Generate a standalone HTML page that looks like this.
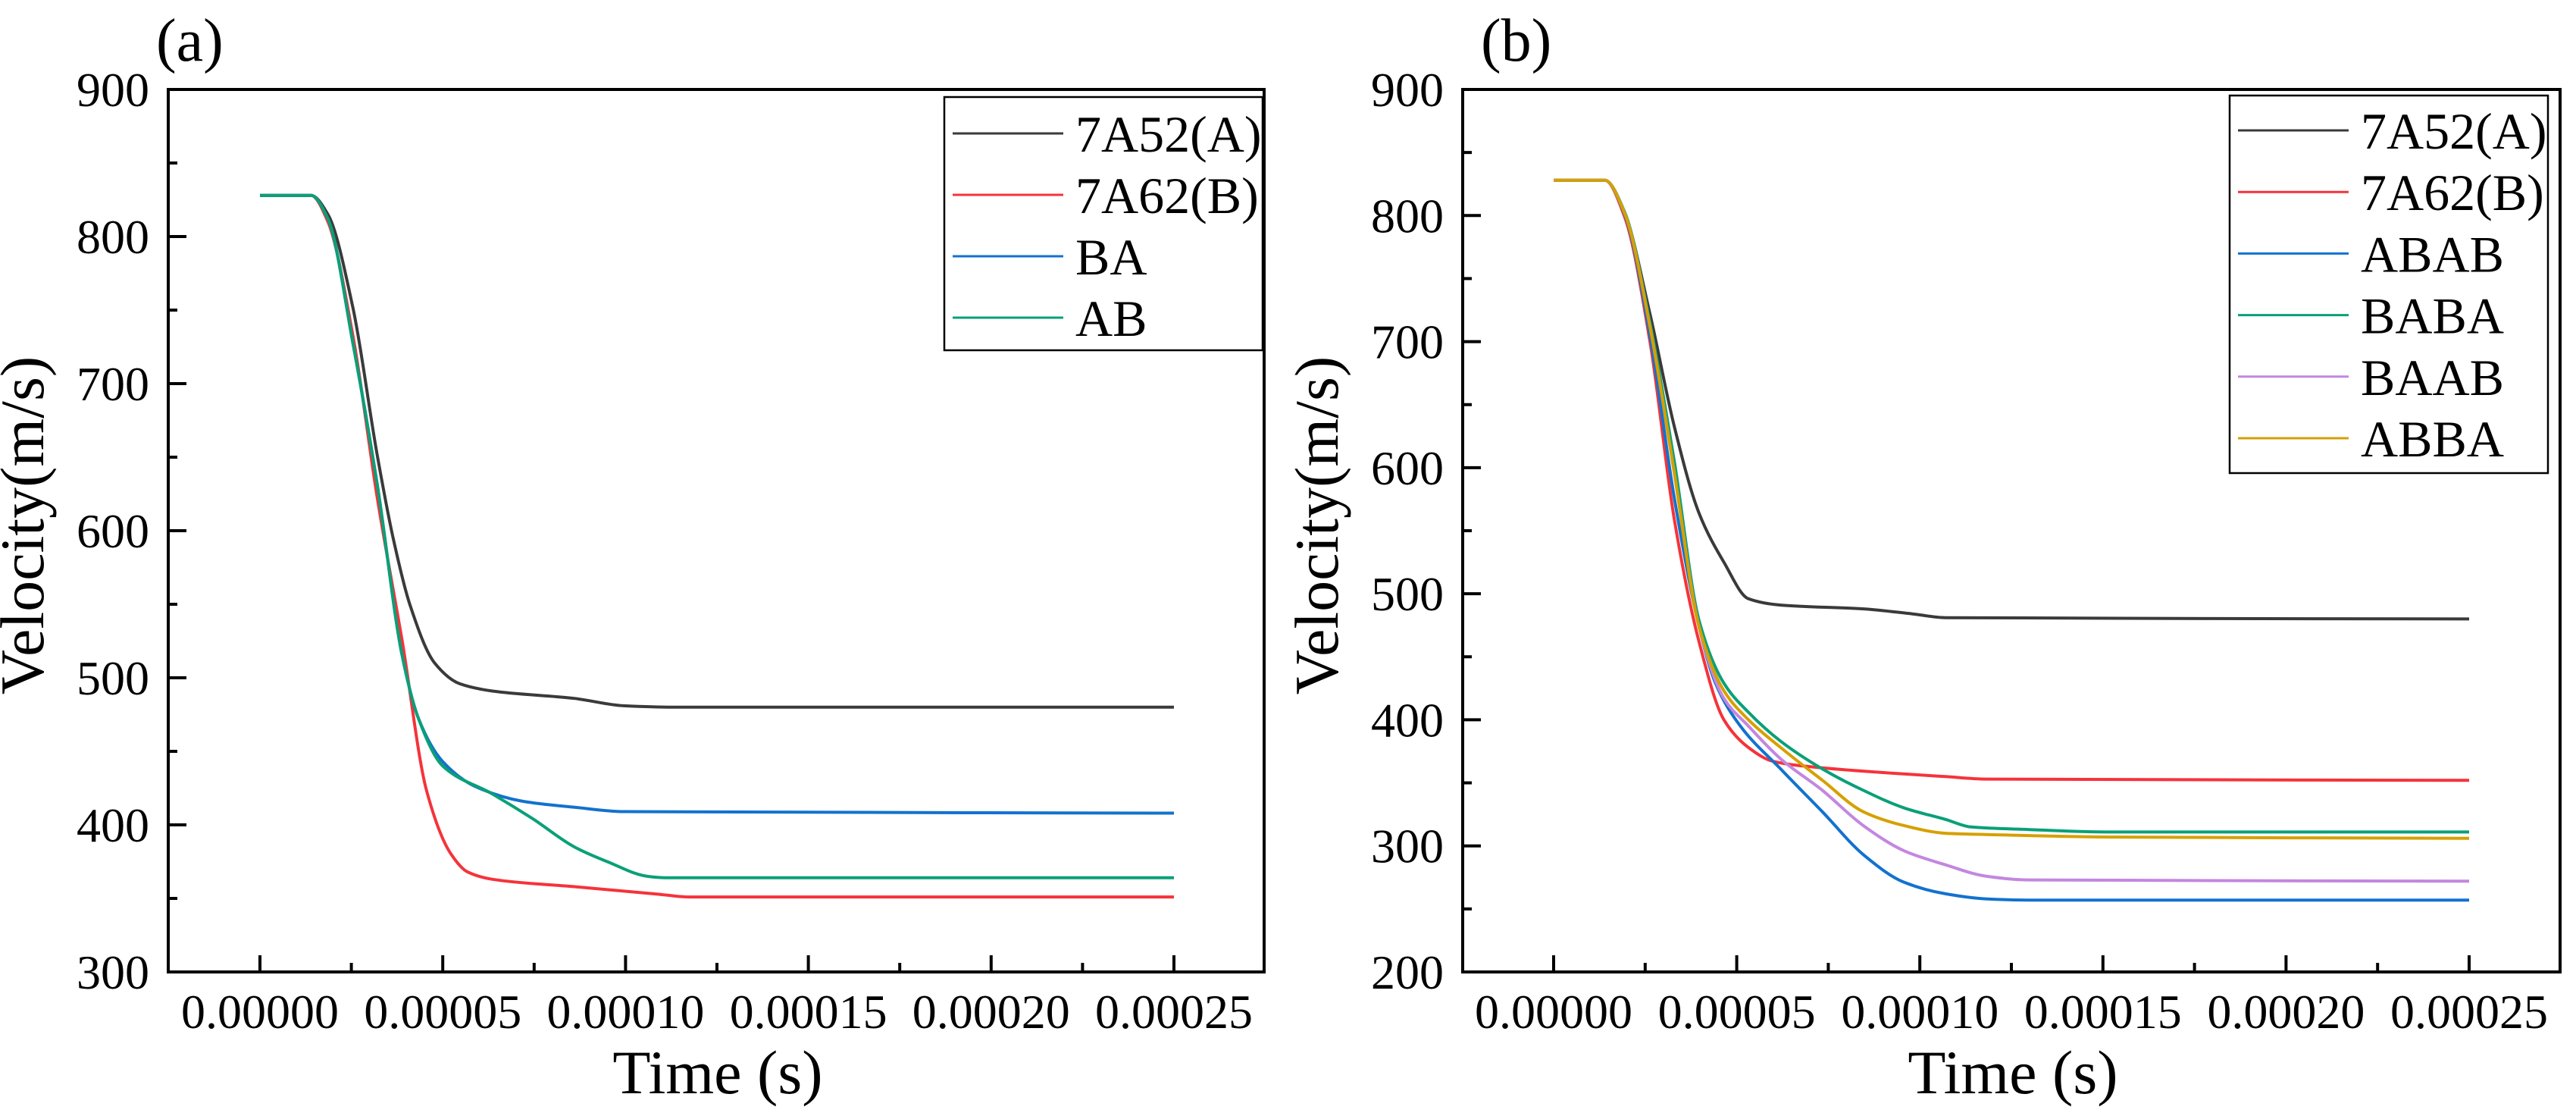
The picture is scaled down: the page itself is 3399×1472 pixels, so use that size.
<!DOCTYPE html>
<html><head><meta charset="utf-8"><style>
html,body{margin:0;padding:0;background:#fff;}
svg{display:block;font-family:"Liberation Serif","Times New Roman",serif;}
svg text{font-family:"Liberation Serif","Times New Roman",serif;}
</style></head><body>
<svg id="fig" width="3399" height="1472" viewBox="0 0 3399 1472" xmlns="http://www.w3.org/2000/svg" font-family="Liberation Serif, serif"></svg>
<script>
// ---- data (time in units of 1e-5 s) ----
const xTickLabels = ["0.00000","0.00005","0.00010","0.00015","0.00020","0.00025"];
const xTickValues = [0,5,10,15,20,25];
const yTicksA = [300,400,500,600,700,800,900];
const yTicksB = [200,300,400,500,600,700,800,900];

const tA52a = [0,1.4,1.86,2.54,3.21,3.66,4.11,4.78,5.46,6.36,8.6,9.95,11.3,25];
const vA52a = [828,828,815,752,651,593,549,510,496,491,486,481,480,480];
const tA62a = [0,1.4,1.86,2.54,3.21,3.89,4.56,5.23,5.68,6.36,8.6,10.85,11.75,25];
const vA62a = [828,828,810,733,622,525,423,380,368,363,358,353,351,351];
const tBA = [0,1.4,1.86,2.54,3.21,3.89,4.34,5.0,5.9,7.2,8.6,9.95,25];
const vBA = [828,828,812,728,631,515,472,443,426,416,412,409,408,408];
const tAB = [0,1.4,1.86,2.54,3.21,3.89,4.34,5.0,6.36,7.47,8.6,9.5,10.6,11.1,25];
const vAB = [828,828,812,728,631,515,472,440,421,404,385,375,365,364,364];

const tA52b = [0,1.4,1.95,2.63,3.3,3.97,4.65,5.32,6.2,8.46,9.8,10.7,25];
const vA52b = [828,828,801,722,632,564,525,496,491,488,484,481,480];
const tA62b = [0,1.4,1.95,2.63,3.3,3.97,4.65,5.32,6.0,7.3,10.7,11.8,25];
const vA62b = [828,828,798,700,558,462,400,378,367,362,355,353,352];
const tABAB = [0,1.4,1.95,2.63,3.3,3.97,4.42,5.1,6.2,7.34,8.46,9.58,10.7,11.8,12.95,25];
const vABAB = [828,828,800,705,575,474,429,395,361,327,293,271,262,258,257,257];
const tBABA = [0,1.4,1.95,2.63,3.3,3.97,4.65,5.32,6.2,7.34,8.46,9.58,10.7,11.4,12.95,15.2,25];
const vBABA = [828,828,802,715,604,479,429,406,383,361,344,330,321,315,313,311,311];
const tBAAB = [0,1.4,1.95,2.63,3.3,3.97,4.65,5.32,6.2,7.34,8.46,9.58,10.7,11.8,12.95,25];
const vBAAB = [828,828,801,712,595,474,417,395,369,344,316,296,285,276,273,272];
const tABBA = [0,1.4,1.95,2.63,3.3,3.97,4.65,5.32,6.2,7.34,8.46,9.58,10.7,11.8,15.2,25];
const vABBA = [828,828,801,712,595,474,423,400,378,352,327,316,310,309,307,306];

const NS="http://www.w3.org/2000/svg";
const svg=document.getElementById('fig');
const FONT='Liberation Serif, Times New Roman, serif';
function mk(tag,attrs,parent){const e=document.createElementNS(NS,tag);for(const k in attrs)e.setAttribute(k,attrs[k]);if(tag==='text')e.setAttribute('font-family',FONT);(parent||svg).appendChild(e);return e;}

// monotone cubic (Fritsch-Carlson) in pixel space
function smoothPath(pts){
  const n=pts.length,dx=[],s=[],m=[];
  for(let i=0;i<n-1;i++){dx[i]=pts[i+1][0]-pts[i][0];s[i]=(pts[i+1][1]-pts[i][1])/dx[i];}
  m[0]=s[0];m[n-1]=s[n-2];
  for(let i=1;i<n-1;i++){
    if(s[i-1]*s[i]<=0)m[i]=0;
    else{const w1=2*dx[i]+dx[i-1],w2=dx[i]+2*dx[i-1];m[i]=(w1+w2)/(w1/s[i-1]+w2/s[i]);}
  }
  let d='M'+pts[0][0].toFixed(1)+' '+pts[0][1].toFixed(1);
  for(let i=0;i<n-1;i++){
    const h=dx[i]/3;
    d+='C'+(pts[i][0]+h).toFixed(1)+' '+(pts[i][1]+m[i]*h).toFixed(1)+' '+(pts[i+1][0]-h).toFixed(1)+' '+(pts[i+1][1]-m[i+1]*h).toFixed(1)+' '+pts[i+1][0].toFixed(1)+' '+pts[i+1][1].toFixed(1);
  }
  return d;
}

function panel(cfg){
  const g=mk('g',{});
  
  
  const L=cfg.left,R=cfg.right,T=118,B=1282;
  const sx=t=>cfg.x0+(cfg.x25-cfg.x0)*t/25;
  const sy=v=>B-(B-T)*(v-cfg.ymin)/(900-cfg.ymin);
  cfg.series.forEach(s=>{
    const pts=s.t.map((t,i)=>[sx(t),sy(s.v[i])]);
    const p=mk('path',{d:smoothPath(pts),fill:'none',stroke:s.color,'stroke-width':4,'stroke-linejoin':'round'},g);
    
    
  });
  const fr=mk('rect',{x:L,y:T,width:R-L,height:B-T,fill:'none',stroke:'#000','stroke-width':4},g);
  
  
  for(let t=0;t<=25;t+=2.5){
    const major=(t%5===0);
    mk('line',{x1:sx(t),x2:sx(t),y1:B,y2:B-(major?22:12),stroke:'#000','stroke-width':4},g);
  }
  xTickValues.forEach((t,i)=>{
    const tx=mk('text',{x:sx(t),y:1356,'font-size':64,'text-anchor':'middle'},g);
    tx.textContent=xTickLabels[i];
    
    
  });
  for(let v=cfg.ymin;v<=900;v+=50){
    const major=(v%100===0);
    mk('line',{x1:L,x2:L+(major?24:12),y1:sy(v),y2:sy(v),stroke:'#000','stroke-width':4},g);
  }
  cfg.yTicks.forEach(v=>{
    const tx=mk('text',{x:L-25,y:sy(v)+22,'font-size':64,'text-anchor':'end'},g);
    tx.textContent=String(v);
    
    
  });
  const xt=mk('text',{x:(L+R)/2+2,y:1442,'font-size':82,'text-anchor':'middle'},g);
  xt.textContent='Time (s)';
  
  
  const ytx=L-165, yty=693;
  const yt=mk('text',{x:ytx,y:yty,'font-size':82,'text-anchor':'middle',transform:'rotate(-90 '+ytx+' '+yty+')'},g);
  yt.textContent='Velocity(m/s)';
  
  
  const pl=mk('text',{x:cfg.labelX,y:80,'font-size':80},g);
  pl.textContent=cfg.tag;
  
  
  const lg=mk('g',{},g);
  
  
  const lb=cfg.legend;
  mk('rect',{x:lb.x,y:lb.y,width:lb.w,height:lb.h,fill:'#fff',stroke:'#000','stroke-width':2.5},lg);
  cfg.series.forEach((s,i)=>{
    const yy=lb.row0+i*lb.dy;
    const ln=mk('line',{x1:lb.x+11,x2:lb.x+157,y1:yy,y2:yy,stroke:s.color,'stroke-width':3},lg);
    
    
    const tx=mk('text',{x:lb.x+173,y:yy+24,'font-size':68},lg);
    tx.textContent=s.label;
    
    
  });
}

panel({name:'panel-a',tag:'(a)',left:222,right:1668,x0:343,x25:1549,ymin:300,yTicks:yTicksA,labelX:206,
  legend:{x:1246,y:128,w:420,h:334,row0:176,dy:81},
  series:[
    {label:'7A52(A)',color:'#3a3a3a',t:tA52a,v:vA52a},
    {label:'7A62(B)',color:'#f5333a',t:tA62a,v:vA62a},
    {label:'BA',color:'#1272cf',t:tBA,v:vBA},
    {label:'AB',color:'#0aa077',t:tAB,v:vAB}
  ]});
panel({name:'panel-b',tag:'(b)',left:1930,right:3378,x0:2050,x25:3258,ymin:200,yTicks:yTicksB,labelX:1954,
  legend:{x:2942,y:126,w:420,h:498,row0:172,dy:81.2},
  series:[
    {label:'7A52(A)',color:'#3a3a3a',t:tA52b,v:vA52b},
    {label:'7A62(B)',color:'#f5333a',t:tA62b,v:vA62b},
    {label:'ABAB',color:'#1272cf',t:tABAB,v:vABAB},
    {label:'BABA',color:'#0aa077',t:tBABA,v:vBABA},
    {label:'BAAB',color:'#c387df',t:tBAAB,v:vBAAB},
    {label:'ABBA',color:'#d6a000',t:tABBA,v:vABBA}
  ]});
</script>
</body></html>
